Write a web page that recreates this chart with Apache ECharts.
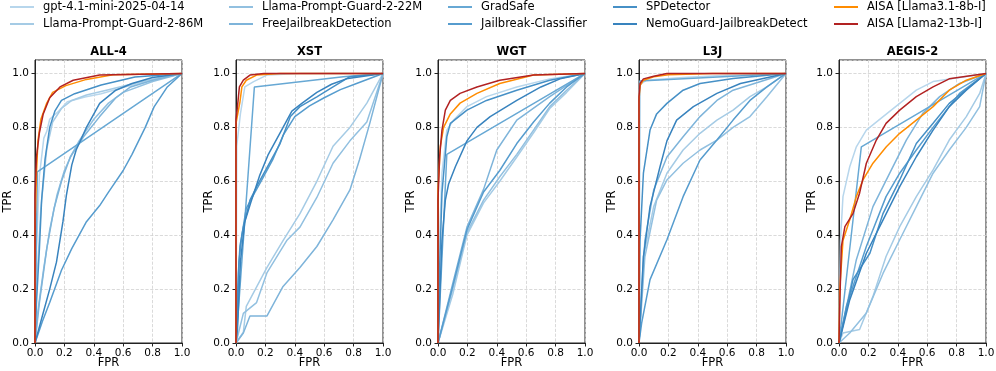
<!DOCTYPE html>
<html>
<head>
<meta charset="utf-8">
<script src="https://cdn.jsdelivr.net/npm/echarts@6.0.0/dist/echarts.min.js"></script>
<style>
  html, body { margin: 0; padding: 0; background: #fff; }
  #main { width: 996px; height: 371px; }
</style>
</head>
<body>
<div id="main"></div>
<script>
// series names, in legend order
var names = ['gpt-4.1-mini-2025-04-14', 'Llama-Prompt-Guard-2-86M', 'Llama-Prompt-Guard-2-22M',
    'FreeJailbreakDetection', 'GradSafe', 'Jailbreak-Classifier', 'SPDetector',
    'NemoGuard-JailbreakDetect', 'AISA [Llama3.1-8b-I]', 'AISA [Llama2-13b-I]'];
var panelTitles = ['ALL-4', 'XST', 'WGT', 'L3J', 'AEGIS-2'];

// ROC points [FPR, TPR], one list per series (same order as names)
var all4 = [
    [[0,0],[0.01,0.35],[0.03,0.62],[0.06,0.76],[0.08,0.785],[0.1,0.83],[0.16,0.86],[0.22,0.895],[0.34,0.913],[0.45,0.925],[0.61,0.95],[0.79,0.975],[1,1]],
    [[0,0],[0.01,0.2],[0.04,0.5],[0.08,0.72],[0.12,0.82],[0.18,0.87],[0.25,0.9],[0.35,0.92],[0.5,0.94],[0.65,0.96],[0.85,0.985],[1,1]],
    [[0,0],[0.02,0.12],[0.06,0.28],[0.1,0.42],[0.15,0.55],[0.2,0.64],[0.25,0.7],[0.3,0.75],[0.4,0.83],[0.5,0.89],[0.6,0.93],[0.8,0.97],[1,1]],
    [[0,0],[0.03,0.15],[0.08,0.35],[0.13,0.5],[0.18,0.6],[0.24,0.69],[0.33,0.765],[0.44,0.84],[0.55,0.91],[0.65,0.95],[0.8,0.975],[1,1]],
    [[0,0],[0.016,0.635],[1,1]],
    [[0,0],[0.05,0.08],[0.1,0.15],[0.18,0.27],[0.25,0.35],[0.35,0.45],[0.44,0.51],[0.5,0.56],[0.6,0.64],[0.66,0.7],[0.75,0.8],[0.81,0.876],[0.9,0.95],[1,1]],
    [[0,0],[0.01,0.15],[0.03,0.35],[0.045,0.53],[0.068,0.68],[0.1,0.8],[0.135,0.86],[0.18,0.9],[0.27,0.925],[0.45,0.957],[0.68,0.987],[1,1]],
    [[0,0],[0.05,0.1],[0.1,0.2],[0.146,0.3],[0.19,0.45],[0.214,0.55],[0.25,0.66],[0.28,0.716],[0.35,0.8],[0.44,0.889],[0.55,0.938],[0.66,0.963],[0.8,0.985],[1,1]],
    [[0,0],[0,0.43],[0.01,0.63],[0.02,0.75],[0.04,0.83],[0.08,0.89],[0.12,0.93],[0.21,0.955],[0.35,0.978],[0.53,0.995],[1,1]],
    [[0,0],[0,0.55],[0.01,0.69],[0.03,0.78],[0.056,0.85],[0.1,0.91],[0.17,0.95],[0.26,0.975],[0.44,0.994],[1,1]]
];
var xst = [
    [[0,0],[0.005,0.73],[0.03,0.85],[0.06,0.95],[0.12,0.97],[0.21,0.994],[0.44,1],[1,1]],
    [[0,0],[0.05,0.04],[0.07,0.136],[0.21,0.28],[0.32,0.38],[0.435,0.48],[0.55,0.6],[0.66,0.73],[0.775,0.8],[0.89,0.89],[1,1]],
    [[0,0],[0.05,0.11],[0.14,0.15],[0.21,0.26],[0.345,0.38],[0.435,0.43],[0.55,0.54],[0.66,0.667],[0.775,0.75],[0.89,0.82],[1,1]],
    [[0,0],[0.05,0.037],[0.095,0.1],[0.21,0.1],[0.32,0.21],[0.435,0.28],[0.55,0.358],[0.66,0.457],[0.775,0.568],[0.84,0.68],[0.91,0.815],[1,1]],
    [[0,0],[0.125,0.95],[0.73,0.988],[1,1]],
    [[0,0],[0.01,0.1],[0.02,0.3],[0.04,0.4],[0.07,0.5],[0.12,0.55],[0.17,0.6],[0.25,0.68],[0.32,0.77],[0.4,0.84],[0.5,0.88],[0.6,0.91],[0.71,0.94],[0.82,0.963],[1,1]],
    [[0,0],[0.016,0.26],[0.027,0.36],[0.05,0.43],[0.095,0.53],[0.15,0.59],[0.21,0.65],[0.3,0.74],[0.37,0.84],[0.435,0.877],[0.55,0.913],[0.66,0.95],[0.775,0.988],[1,1]],
    [[0,0],[0.01,0.05],[0.03,0.3],[0.06,0.45],[0.1,0.52],[0.16,0.62],[0.22,0.7],[0.3,0.78],[0.38,0.86],[0.45,0.89],[0.55,0.93],[0.65,0.96],[0.75,0.98],[1,1]],
    [[0,0],[0,0.815],[0.027,0.895],[0.04,0.95],[0.07,0.975],[0.14,0.994],[0.3,1],[1,1]],
    [[0,0],[0,0.83],[0.01,0.877],[0.023,0.95],[0.05,0.975],[0.095,0.994],[0.19,1],[1,1]]
];
var wgt = [
    [[0,0],[0.01,0.38],[0.027,0.63],[0.06,0.79],[0.106,0.827],[0.197,0.877],[0.33,0.914],[0.536,0.95],[0.76,0.98],[1,1]],
    [[0,0],[0.1,0.18],[0.197,0.4],[0.31,0.52],[0.42,0.6],[0.536,0.69],[0.65,0.78],[0.76,0.87],[0.875,0.93],[1,1]],
    [[0,0],[0.1,0.2],[0.197,0.41],[0.31,0.53],[0.42,0.617],[0.536,0.7],[0.65,0.79],[0.76,0.877],[0.875,0.938],[1,1]],
    [[0,0],[0.1,0.22],[0.197,0.43],[0.31,0.57],[0.4,0.716],[0.536,0.827],[0.76,0.914],[1,1]],
    [[0,0],[0.06,0.7],[1,1]],
    [[0,0],[0.1,0.21],[0.197,0.42],[0.31,0.56],[0.42,0.64],[0.536,0.74],[0.65,0.82],[0.76,0.89],[0.875,0.95],[1,1]],
    [[0,0],[0.01,0.26],[0.027,0.556],[0.06,0.765],[0.084,0.815],[0.197,0.864],[0.33,0.9],[0.536,0.938],[0.76,0.975],[1,1]],
    [[0,0],[0.027,0.38],[0.05,0.53],[0.072,0.59],[0.118,0.654],[0.197,0.75],[0.265,0.8],[0.355,0.84],[0.536,0.9],[0.7,0.95],[0.83,0.98],[1,1]],
    [[0,0],[0,0.57],[0.016,0.73],[0.038,0.8],[0.084,0.85],[0.15,0.89],[0.265,0.926],[0.42,0.963],[0.65,0.994],[1,1]],
    [[0,0],[0,0.53],[0.011,0.69],[0.027,0.79],[0.05,0.864],[0.084,0.9],[0.15,0.926],[0.265,0.95],[0.42,0.975],[0.65,0.994],[1,1]]
];
var l3j = [
    [[0,0],[0,0.93],[0.01,0.96],[0.05,0.975],[0.3,0.985],[0.6,0.993],[1,1]],
    [[0,0],[0.03,0.32],[0.1,0.506],[0.19,0.63],[0.3,0.716],[0.415,0.778],[0.53,0.827],[0.64,0.864],[0.755,0.914],[0.87,0.95],[1,1]],
    [[0,0],[0.04,0.32],[0.12,0.53],[0.19,0.605],[0.3,0.667],[0.415,0.716],[0.53,0.753],[0.64,0.8],[0.755,0.84],[0.87,0.914],[1,1]],
    [[0,0],[0.04,0.38],[0.1,0.568],[0.19,0.69],[0.3,0.765],[0.415,0.84],[0.53,0.9],[0.64,0.938],[1,1]],
    [[0,0],[0.005,0.972],[1,1]],
    [[0,0],[0.018,0.074],[0.075,0.235],[0.19,0.383],[0.3,0.543],[0.415,0.679],[0.53,0.753],[0.64,0.827],[0.755,0.9],[0.87,0.95],[1,1]],
    [[0,0],[0.007,0.38],[0.03,0.63],[0.075,0.79],[0.12,0.85],[0.19,0.889],[0.3,0.938],[0.415,0.963],[0.64,0.981],[1,1]],
    [[0,0],[0.03,0.32],[0.075,0.506],[0.143,0.654],[0.19,0.75],[0.256,0.827],[0.37,0.877],[0.53,0.926],[0.69,0.963],[1,1]],
    [[0,0],[0,0.9],[0.007,0.955],[0.03,0.975],[0.1,0.988],[0.2,0.995],[0.5,1],[1,1]],
    [[0,0],[0,0.914],[0.007,0.963],[0.03,0.98],[0.1,0.99],[0.19,1],[1,1]]
];
var aegis2 = [
    [[0,0],[0.01,0.38],[0.027,0.543],[0.073,0.654],[0.118,0.728],[0.186,0.79],[0.3,0.84],[0.413,0.889],[0.526,0.938],[0.64,0.97],[1,1]],
    [[0,0],[0.027,0.037],[0.14,0.05],[0.231,0.173],[0.32,0.321],[0.413,0.432],[0.526,0.543],[0.64,0.642],[0.75,0.753],[0.866,0.84],[0.957,0.926],[1,1]],
    [[0,0],[0.073,0.037],[0.186,0.111],[0.3,0.259],[0.413,0.383],[0.526,0.506],[0.64,0.63],[0.75,0.716],[0.866,0.8],[0.957,0.877],[1,1]],
    [[0,0],[0.118,0.309],[0.231,0.506],[0.345,0.63],[0.458,0.753],[0.57,0.852],[0.685,0.914],[0.82,0.963],[1,1]],
    [[0,0],[0.152,0.728],[1,1]],
    [[0,0],[0.05,0.136],[0.186,0.358],[0.32,0.543],[0.413,0.63],[0.526,0.716],[0.64,0.8],[0.82,0.926],[1,1]],
    [[0,0],[0.095,0.235],[0.21,0.333],[0.3,0.481],[0.413,0.605],[0.526,0.74],[0.64,0.815],[0.75,0.889],[1,1]],
    [[0,0],[0.073,0.16],[0.186,0.333],[0.3,0.457],[0.413,0.58],[0.526,0.691],[0.64,0.79],[0.75,0.877],[0.866,0.938],[1,1]],
    [[0,0],[0.005,0.2],[0.027,0.38],[0.073,0.457],[0.118,0.543],[0.163,0.605],[0.231,0.667],[0.322,0.728],[0.413,0.778],[0.526,0.827],[0.64,0.877],[0.75,0.938],[0.866,0.975],[1,1]],
    [[0,0],[0.005,0.136],[0.016,0.358],[0.04,0.432],[0.095,0.48],[0.14,0.556],[0.186,0.667],[0.254,0.753],[0.32,0.815],[0.413,0.864],[0.526,0.914],[0.64,0.95],[0.75,0.98],[1,1]]
];
var panelData = [all4, xst, wgt, l3j, aegis2];

var colors = ['#b7d6ec', '#a5cbe5', '#92c0e0', '#7eb4da', '#67a8d4', '#569cce', '#4690c6', '#3883be', '#ff8c00', '#b22222'];
var gridLefts = [35, 236, 438, 639, 839];
var gridWidth = 147;
var legendLefts = [10, 229, 448, 613, 834];

var myChart = echarts.init(document.getElementById('main'));

var grids = [], xAxes = [], yAxes = [], titles = [], series = [], legends = [];

panelTitles.forEach(function (t, p) {
    grids.push({
        left: gridLefts[p], top: 60, width: gridWidth, height: 283,
        outerBoundsMode: 'none', containLabel: false,
        show: true, borderColor: '#222', borderWidth: 1, backgroundColor: 'transparent'
    });
    titles.push({
        text: t, left: gridLefts[p] + gridWidth / 2, top: 46, textAlign: 'center', padding: 0,
        textStyle: { fontSize: 11.5, fontWeight: 'bold', color: '#000', fontFamily: 'DejaVu Sans' }
    });
    xAxes.push({
        type: 'value', gridIndex: p, min: 0, max: 1, interval: 0.2,
        name: 'FPR', nameLocation: 'middle', nameGap: 14, nameMoveOverlap: false,
        nameTextStyle: { fontSize: 11.5, color: '#000' },
        axisLine: { show: true, onZero: false, lineStyle: { color: '#222' } },
        axisTick: { show: true, length: 3.5, lineStyle: { color: '#222' } },
        axisLabel: { fontSize: 10.5, color: '#000', margin: 5, formatter: function (v) { return v.toFixed(1); } },
        splitLine: { show: true, lineStyle: { type: 'dashed', color: '#d0d0d0', width: 0.8 } }
    });
    yAxes.push({
        type: 'value', gridIndex: p, min: 0, max: 1.05, interval: 0.2,
        name: 'TPR', nameLocation: 'middle', nameGap: 21, nameMoveOverlap: false,
        nameTextStyle: { fontSize: 11.5, color: '#000' },
        axisLine: { show: true, onZero: false, lineStyle: { color: '#222' } },
        axisTick: { show: true, length: 3.5, lineStyle: { color: '#222' } },
        axisLabel: {
            fontSize: 10.5, color: '#000', margin: 6, showMaxLabel: false,
            formatter: function (v) { return v > 1.001 ? '' : v.toFixed(1); }
        },
        splitLine: { show: true, lineStyle: { type: 'dashed', color: '#d0d0d0', width: 0.8 } }
    });
    names.forEach(function (n, i) {
        series.push({
            name: n, type: 'line', xAxisIndex: p, yAxisIndex: p,
            data: panelData[p][i], showSymbol: false, symbol: 'none',
            lineStyle: { width: 1.5, color: colors[i] },
            itemStyle: { color: colors[i] },
            z: 2 + i
        });
    });
});

names.forEach(function (n, i) {
    var col = Math.floor(i / 2), row = i % 2;
    legends.push({
        data: [n], left: legendLefts[col], top: 1 + row * 17, padding: 0,
        icon: 'rect', itemWidth: 24, itemHeight: 2, itemGap: 0, selectedMode: false,
        textStyle: { fontSize: 11.5, color: '#000', padding: [0, 0, 0, 4] }
    });
});

option = {
    animation: false,
    textStyle: { fontFamily: 'DejaVu Sans' },
    title: titles,
    legend: legends,
    grid: grids,
    xAxis: xAxes,
    yAxis: yAxes,
    series: series
};

myChart.setOption(option);
</script>
</body>
</html>
